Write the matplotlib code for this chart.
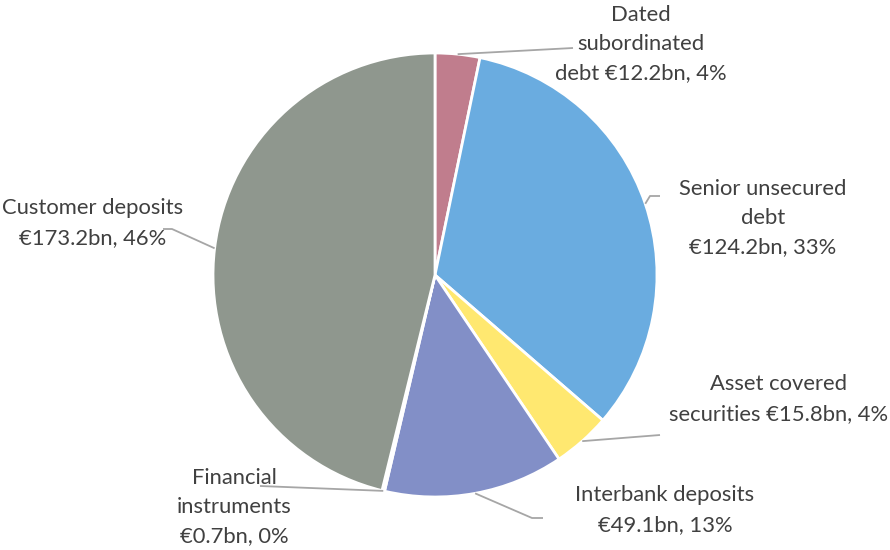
import numpy as np
import matplotlib
matplotlib.use("Agg")
import matplotlib.pyplot as plt

categories = ["Dated subordinated debt", "Senior unsecured debt", "Asset covered securities",
              "Interbank deposits", "Financial instruments", "Customer deposits"]
values = [12.2, 124.2, 15.8, 49.1, 0.7, 173.2]
percents = ["4%", "33%", "4%", "13%", "0%", "46%"]
label_texts = [
    "Dated\nsubordinated\ndebt €12.2bn, 4%",
    "Senior unsecured\ndebt\n€124.2bn, 33%",
    "Asset covered\nsecurities €15.8bn, 4%",
    "Interbank deposits\n€49.1bn, 13%",
    "Financial\ninstruments\n€0.7bn, 0%",
    "Customer deposits\n€173.2bn, 46%",
]
colors = ["#C07D8D", "#6AACE0", "#FFE870", "#828FC7", "#E39A5B", "#8F978E"]

W, H = 890, 550
fig = plt.figure(figsize=(W / 100, H / 100), dpi=100)
ax = fig.add_axes([0, 0, 1, 1])

cx, cy, r = 435, H - 275, 222
wedges, _ = ax.pie(values, colors=colors, startangle=90, counterclock=False,
                   center=(cx, cy), radius=r, frame=True,
                   wedgeprops=dict(edgecolor="white", linewidth=2.0))
ax.set_xlim(0, W)
ax.set_ylim(0, H)
ax.set_aspect("equal")
ax.axis("off")

# label positions (pixel coords, y from top) and leader line bends
label_pos = [(641, 44), (763, 218), (779, 399), (665, 510), (234, 507), (93, 223)]
leaders = [
    [(573, 48)],
    [(650, 196), (660, 196)],
    [(660, 435)],
    [(532, 518), (543, 518)],
    [(260, 486)],
    [(172, 229), (163, 229)],
]

tc = "#404040"
for w, txt, (lx, ly), pts in zip(wedges, label_texts, label_pos, leaders):
    ang = np.deg2rad((w.theta1 + w.theta2) / 2)
    sx, sy = cx + r * np.cos(ang), cy + r * np.sin(ang)
    xs = [sx] + [p[0] for p in pts]
    ys = [sy] + [H - p[1] for p in pts]
    ax.plot(xs, ys, color="#A6A6A6", lw=1.3, solid_capstyle="butt", zorder=1)
    ax.text(lx, H - ly, txt, ha="center", va="center", fontsize=15.8, color=tc,
            family="Lato", linespacing=1.58)

fig.savefig("out.png", dpi=100)
